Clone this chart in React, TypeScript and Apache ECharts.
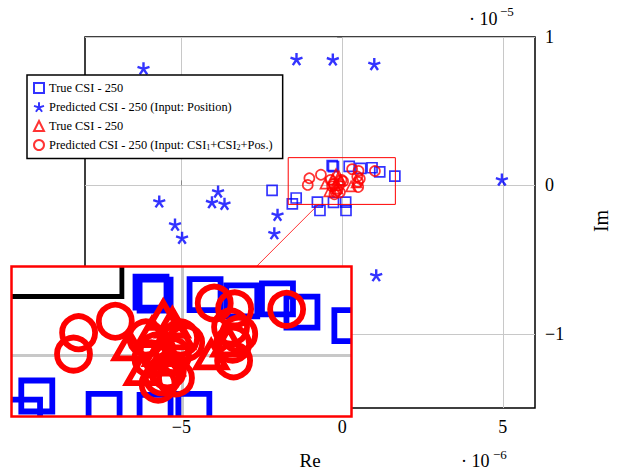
import React, { useEffect, useRef } from 'react';
import * as echarts from 'echarts';

// x in units of 1e-6, y in units of 1e-5
const X_TICKS = [-5, 0, 5];
const Y_TICKS = [-1, 0, 1];

const trueBlue: number[][] = [
  [-2.18, -0.034], [-1.43, -0.085], [-1.55, -0.125], [-0.77, -0.113], [-0.69, -0.169],
  [-0.27, -0.115], [0.11, -0.113], [0.12, -0.169], [-0.31, 0.133], [-0.27, 0.127],
  [0.22, 0.128], [0.58, 0.115], [0.93, 0.119], [1.17, 0.091], [1.64, 0.063],
];
const predPosition: number[][] = [
  [-6.18, 0.789], [-1.42, 0.851], [-0.29, 0.849], [1.0, 0.818], [4.97, 0.04],
  [-5.69, -0.108], [-3.86, -0.041], [-4.05, -0.113], [-3.66, -0.124], [-5.2, -0.264],
  [-2.01, -0.198], [-4.98, -0.353], [-2.11, -0.322], [1.06, -0.605],
];
const trueRed: number[][] = [
  [-0.19, 0.076], [-0.52, 0.012], [-0.05, 0.035], [0.28, -0.007], [-0.4, -0.04],
  [-0.3, 0.04], [-0.15, -0.02], [-0.22, 0.0], [0.45, 0.02], [-0.1, 0.06],
];
const predCombined: number[][] = [
  [-1.02, 0.048], [-1.07, 0.003], [-0.66, 0.072], [0.31, 0.11], [0.51, 0.098],
  [1.02, 0.097], [0.55, 0.045], [0.49, 0.024], [0.5, -0.011], [0.47, 0.06],
  [-0.02, 0.037], [0.03, 0.027], [-0.07, -0.047], [-0.24, -0.06], [-0.31, -0.007],
  [-0.36, 0.037], [-0.25, 0.01], [-0.15, -0.032], [-0.2, -0.045], [-0.1, 0.0],
];

const LEGEND_NAMES = ['trueBlue', 'predPosition', 'trueRed', 'predCombined'];
const LEGEND_TEXT: Record<string, string> = {
  trueBlue: 'True CSI - 250',
  predPosition: 'Predicted CSI - 250 (Input: Position)',
  trueRed: 'True CSI - 250',
  predCombined: 'Predicted CSI - 250 (Input: CSI{sub|1}+CSI{sub|2}+Pos.)',
};

// spy / zoom window (data units) and inset layout
const ZOOM_X = [-1.678, 1.656];
const ZOOM_Y = [-0.128, 0.187];
const INSET = { left: 11.5, top: 266.5, width: 340, height: 150 };
const ZS = 3.2;
const LEGEND_BOX = { right: 323, bottom: 167 };

const BLUE = '#0000ff';
const RED = '#ff0000';
const GRID_GREY = '#c8c8c8';
const SERIF = 'Liberation Serif';

const STAR = 'path://M0,-10L0,0M9.51,-3.09L0,0M5.88,8.09L0,0M-5.88,8.09L0,0M-9.51,-3.09L0,0';

const fmt = (v: number) => (v < 0 ? '\u2212' + Math.abs(v) : String(v));

function insetSeries(name: string, data: number[][], kind: string, color: string) {
  return {
    name,
    type: 'custom',
    xAxisIndex: 1,
    yAxisIndex: 1,
    clip: true,
    silent: true,
    z: 12,
    data,
    renderItem: (params: any, api: any) => {
      const p = api.coord([api.value(0), api.value(1)]);
      const style = { fill: 'none', stroke: color, lineWidth: 5.8 };
      if (kind === 'rect') {
        const s = 31;
        return { type: 'rect', shape: { x: p[0] - s / 2, y: p[1] - s / 2, width: s, height: s }, style };
      }
      if (kind === 'circle') {
        return { type: 'circle', shape: { cx: p[0], cy: p[1], r: 16.5 }, style };
      }
      const r = 17;
      return {
        type: 'polygon',
        shape: {
          points: [
            [p[0], p[1] - r],
            [p[0] + r * 0.866, p[1] + r * 0.5],
            [p[0] - r * 0.866, p[1] + r * 0.5],
          ],
        },
        style,
      };
    },
  };
}

export default function App() {
  const ref = useRef<HTMLDivElement>(null);
  useEffect(() => {
    if (!ref.current) return;
    const chart = echarts.init(ref.current, undefined, { renderer: 'svg' });
    const option: any = {
      animation: false,
      backgroundColor: '#fff',
      grid: [
        { left: 85, top: 37, width: 450, height: 371, show: true, borderColor: '#000', borderWidth: 1.5, backgroundColor: 'transparent' },
        { left: INSET.left, top: INSET.top, width: INSET.width, height: INSET.height, show: true, borderWidth: 0, backgroundColor: '#fff', z: 10 },
      ],
      xAxis: [
        {
          type: 'value', gridIndex: 0, min: -8, max: 6,
          axisLine: { show: false },
          axisTick: { show: true, inside: true, length: 5, customValues: X_TICKS, lineStyle: { color: '#888' } },
          axisLabel: { customValues: X_TICKS, formatter: fmt, fontFamily: SERIF, fontSize: 18, color: '#000', margin: 10 },
          splitLine: { show: true, lineStyle: { color: GRID_GREY, width: 1 } },
        },
        {
          type: 'value', gridIndex: 1, min: ZOOM_X[0], max: ZOOM_X[1], z: 11,
          axisLine: { show: false },
          axisTick: { show: false, customValues: [0] },
          axisLabel: { show: false, customValues: [0] },
          splitLine: { show: true, lineStyle: { color: GRID_GREY, width: 3 } },
        },
      ],
      yAxis: [
        {
          type: 'value', gridIndex: 0, min: -1.5, max: 1, position: 'right',
          axisLine: { show: false },
          axisTick: { show: true, inside: true, length: 5, customValues: Y_TICKS, lineStyle: { color: '#888' } },
          axisLabel: { customValues: Y_TICKS, formatter: fmt, fontFamily: SERIF, fontSize: 18, color: '#000', margin: 10 },
          splitLine: { show: true, lineStyle: { color: GRID_GREY, width: 1 } },
        },
        {
          type: 'value', gridIndex: 1, min: ZOOM_Y[0], max: ZOOM_Y[1], z: 11,
          axisLine: { show: false },
          axisTick: { show: false, customValues: [0] },
          axisLabel: { show: false, customValues: [0] },
          splitLine: { show: true, lineStyle: { color: GRID_GREY, width: 3 } },
        },
      ],
      legend: {
        left: 27, top: 75, orient: 'vertical',
        backgroundColor: '#fff', borderColor: '#000', borderWidth: 1.5, borderRadius: 0,
        padding: [7, 10, 7, 6], itemGap: 7, itemWidth: 10, itemHeight: 10,
        selectedMode: false,
        data: LEGEND_NAMES,
        formatter: (n: string) => LEGEND_TEXT[n],
        textStyle: {
          fontFamily: SERIF, fontSize: 12.4, color: '#000',
          rich: { sub: { fontFamily: SERIF, fontSize: 8, padding: [5, 0, 0, 0] } },
        },
      },
      series: [
        {
          name: 'trueBlue', type: 'scatter', data: trueBlue, symbol: 'rect', symbolSize: 10,
          itemStyle: { color: 'rgba(0,0,0,0)', borderColor: BLUE, borderWidth: 1.7 },
        },
        {
          name: 'predPosition', type: 'scatter', data: predPosition, symbol: STAR, symbolSize: 12,
          itemStyle: { color: BLUE, borderColor: BLUE, borderWidth: 2.4 },
        },
        {
          name: 'trueRed', type: 'scatter', data: trueRed, symbol: 'triangle', symbolSize: 10,
          itemStyle: { color: 'rgba(0,0,0,0)', borderColor: RED, borderWidth: 1.7 },
        },
        {
          name: 'predCombined', type: 'scatter', data: predCombined, symbol: 'circle', symbolSize: 10,
          itemStyle: { color: 'rgba(0,0,0,0)', borderColor: RED, borderWidth: 1.7 },
        },
        insetSeries('inset-trueBlue', trueBlue, 'rect', BLUE),
        insetSeries('inset-trueRed', trueRed, 'triangle', RED),
        insetSeries('inset-predCombined', predCombined, 'circle', RED),
      ],
    };
    chart.setOption(option);

    const tl = chart.convertToPixel({ gridIndex: 0 } as any, [ZOOM_X[0], ZOOM_Y[1]]) as number[];
    const br = chart.convertToPixel({ gridIndex: 0 } as any, [ZOOM_X[1], ZOOM_Y[0]]) as number[];
    const c1 = [(tl[0] + br[0]) / 2, (tl[1] + br[1]) / 2];
    const c2 = [INSET.left + INSET.width / 2, INSET.top + INSET.height / 2];
    const t1 = (br[1] - c1[1]) / (c2[1] - c1[1]);
    const t2 = (INSET.top - c1[1]) / (c2[1] - c1[1]);
    const a = [c1[0] + t1 * (c2[0] - c1[0]), br[1]];
    const b = [c1[0] + t2 * (c2[0] - c1[0]), INSET.top];
    const sx = INSET.width / (br[0] - tl[0]);
    const sy = INSET.height / (br[1] - tl[1]);
    const lx = INSET.left + (LEGEND_BOX.right - tl[0]) * sx;
    const ly = INSET.top + (LEGEND_BOX.bottom - tl[1]) * sy;

    chart.setOption({
      graphic: [
        { type: 'rect', z: 30, silent: true, shape: { x: tl[0], y: tl[1], width: br[0] - tl[0], height: br[1] - tl[1] }, style: { fill: 'none', stroke: RED, lineWidth: 1 } },
        { type: 'line', z: 30, silent: true, shape: { x1: a[0], y1: a[1], x2: b[0], y2: b[1] }, style: { stroke: RED, lineWidth: 0.8 } },
        { type: 'polyline', z: 30, silent: true, shape: { points: [[INSET.left, ly], [lx, ly], [lx, INSET.top]] }, style: { fill: 'none', stroke: '#000', lineWidth: 1.5 * ZS } },
        { type: 'rect', z: 31, silent: true, shape: { x: INSET.left, y: INSET.top, width: INSET.width, height: INSET.height }, style: { fill: 'none', stroke: RED, lineWidth: 2.5 } },
        { type: 'text', z: 30, x: 469, y: 19, style: { text: '\u00b7 10', font: `18px "${SERIF}"`, fill: '#000', verticalAlign: 'middle' } },
        { type: 'text', z: 30, x: 500, y: 11, style: { text: '\u22125', font: `13px "${SERIF}"`, fill: '#000', verticalAlign: 'middle' } },
        { type: 'text', z: 30, x: 461, y: 461, style: { text: '\u00b7 10', font: `18px "${SERIF}"`, fill: '#000', verticalAlign: 'middle' } },
        { type: 'text', z: 30, x: 493, y: 454, style: { text: '\u22126', font: `13px "${SERIF}"`, fill: '#000', verticalAlign: 'middle' } },
        { type: 'text', z: 30, x: 310, y: 460, style: { text: 'Re', font: `19px "${SERIF}"`, fill: '#000', align: 'center', verticalAlign: 'middle' } },
        { type: 'text', z: 30, x: 601, y: 221, rotation: Math.PI / 2, style: { text: 'Im', font: `20px "${SERIF}"`, fill: '#000', align: 'center', verticalAlign: 'middle' } },
      ],
    });

    return () => chart.dispose();
  }, []);
  return <div ref={ref} style={{ position: 'fixed', left: 0, top: 0, width: 618, height: 472 }} />;
}
